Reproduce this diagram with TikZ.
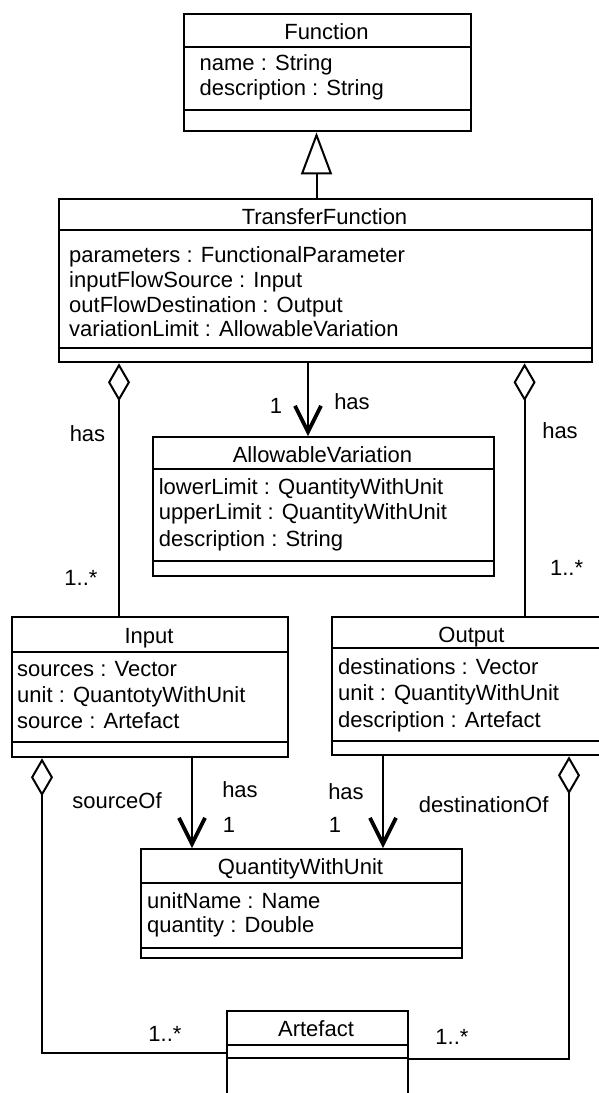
\documentclass[tikz,border=0pt]{standalone}
\usepackage{fontspec}
\setmainfont{Liberation Sans}
\usetikzlibrary{arrows.meta}
\tikzset{
  cls/.style={draw, line width=2.3pt, inner sep=0pt, anchor=north west, fill=white},
  sep/.style={line width=2.7pt},
  txt/.style={font=\fontsize{22}{26}\selectfont, inner sep=0pt},
  ttl/.style={txt, anchor=base},
  attr/.style={txt, anchor=base west},
  lbl/.style={txt, anchor=base},
  conn/.style={line width=2pt},
  inh/.style={conn, -{Triangle[open, length=42pt, width=31pt]}},
  aggr/.style={conn, {Diamond[open, length=38pt, width=22pt]}-},
  assoc/.style={conn, -{Straight Barb[length=26pt, width=26pt, line width=3.8pt]}}
}
\begin{document}
\begin{tikzpicture}[x=1pt, y=-1pt]
\useasboundingbox (0,0) rectangle (599,1093);
\clip (0,0) rectangle (599,1093);

% ---------- Function ----------
\node[cls, minimum width=287pt, minimum height=117pt] (func) at (183,13) {};
\draw[sep] (func.west |- 0,47) -- (func.east |- 0,47);
\draw[sep] (func.west |- 0,110) -- (func.east |- 0,110);
\node[ttl] (funcT) at (326.5,39) {Function};
\node[attr] (funcA1) at (199.5,70) {name : String};
\node[attr] (funcA2) at (199.5,95) {description : String};

% ---------- TransferFunction ----------
\node[cls, minimum width=533pt, minimum height=163pt] (tf) at (58,198) {};
\draw[sep] (tf.west |- 0,230) -- (tf.east |- 0,230);
\draw[sep] (tf.west |- 0,348) -- (tf.east |- 0,348);
\node[ttl] (tfT) at (324.5,224) {TransferFunction};
\node[attr] (tfA1) at (69,262) {parameters : FunctionalParameter};
\node[attr] (tfA2) at (69,287) {inputFlowSource : Input};
\node[attr] (tfA3) at (69,312) {outFlowDestination : Output};
\node[attr] (tfA4) at (69,336) {variationLimit : AllowableVariation};

% ---------- AllowableVariation ----------
\node[cls, minimum width=341pt, minimum height=139pt] (av) at (152,436) {};
\draw[sep] (av.west |- 0,469) -- (av.east |- 0,469);
\draw[sep] (av.west |- 0,561) -- (av.east |- 0,561);
\node[ttl] (avT) at (322.5,462) {AllowableVariation};
\node[attr] (avA1) at (158.6,494) {lowerLimit : QuantityWithUnit};
\node[attr] (avA2) at (158.6,519) {upperLimit : QuantityWithUnit};
\node[attr] (avA3) at (158.6,546) {description : String};

% ---------- Input ----------
\node[cls, minimum width=276pt, minimum height=140pt] (inp) at (11,616) {};
\draw[sep] (inp.west |- 0,652) -- (inp.east |- 0,652);
\draw[sep] (inp.west |- 0,742) -- (inp.east |- 0,742);
\node[ttl] (inpT) at (149,643) {Input};
\node[attr] (inpA1) at (17,676) {sources : Vector};
\node[attr] (inpA2) at (17,702) {unit : QuantotyWithUnit};
\node[attr] (inpA3) at (17,728) {source : Artefact};

% ---------- Output ----------
\node[cls, minimum width=282pt, minimum height=138pt] (outp) at (330.5,616) {};
\draw[sep] (outp.west |- 0,648) -- (outp.east |- 0,648);
\draw[sep] (outp.west |- 0,741) -- (outp.east |- 0,741);
\node[ttl] (outpT) at (471.5,642) {Output};
\node[attr] (outpA1) at (338,674) {destinations : Vector};
\node[attr] (outpA2) at (338,700) {unit : QuantityWithUnit};
\node[attr] (outpA3) at (338,727) {description : Artefact};

% ---------- QuantityWithUnit ----------
\node[cls, minimum width=321pt, minimum height=109pt] (qwu) at (140,848) {};
\draw[sep] (qwu.west |- 0,883) -- (qwu.east |- 0,883);
\draw[sep] (qwu.west |- 0,948) -- (qwu.east |- 0,948);
\node[ttl] (qwuT) at (300.5,874) {QuantityWithUnit};
\node[attr] (qwuA1) at (147,908) {unitName : Name};
\node[attr] (qwuA2) at (147,932) {quantity : Double};

% ---------- Artefact ----------
\node[cls, minimum width=181.5pt, minimum height=110pt] (art) at (225.5,1010) {};
\draw[sep] (art.west |- 0,1045) -- (art.east |- 0,1045);
\draw[sep] (art.west |- 0,1058) -- (art.east |- 0,1058);
\node[ttl] (artT) at (316,1036) {Artefact};

% ---------- connectors ----------
\draw[inh] (tf.north -| 316.5,0) -- (func.south -| 316.5,0);
\draw[assoc] (tf.south -| 308,0) -- (av.north -| 308,0);
\draw[aggr] (tf.south -| 119,0) -- (inp.north -| 119,0);
\draw[aggr] (tf.south -| 524.6,0) -- (outp.north -| 524.6,0);
\draw[assoc] (inp.south -| 192,0) -- (qwu.north -| 192,0);
\draw[assoc] (outp.south -| 383,0) -- (qwu.north -| 383,0);
\draw[aggr] (inp.south -| 42,0) -- (42,1053) -- (art.west |- 0,1053);
\draw[aggr] (outp.south -| 569,0) -- (569,1059) -- (art.east |- 0,1059);

% ---------- labels ----------
\node[lbl] (l1) at (87.5,441) {has};
\node[lbl] (l2) at (81,585) {1..*};
\node[lbl] (l3) at (276,413) {1};
\node[lbl] (l4) at (352,409) {has};
\node[lbl] (l5) at (560,438) {has};
\node[lbl] (l6) at (566.6,575) {1..*};
\node[lbl] (l7) at (117,808) {sourceOf};
\node[lbl] (l8) at (240,797) {has};
\node[lbl] (l9) at (229,832) {1};
\node[lbl] (l10) at (346,799) {has};
\node[lbl] (l11) at (335,832) {1};
\node[lbl] (l12) at (483.6,812) {destinationOf};
\node[lbl] (l13) at (165,1041) {1..*};
\node[lbl] (l14) at (452,1044) {1..*};
\end{tikzpicture}
\end{document}
